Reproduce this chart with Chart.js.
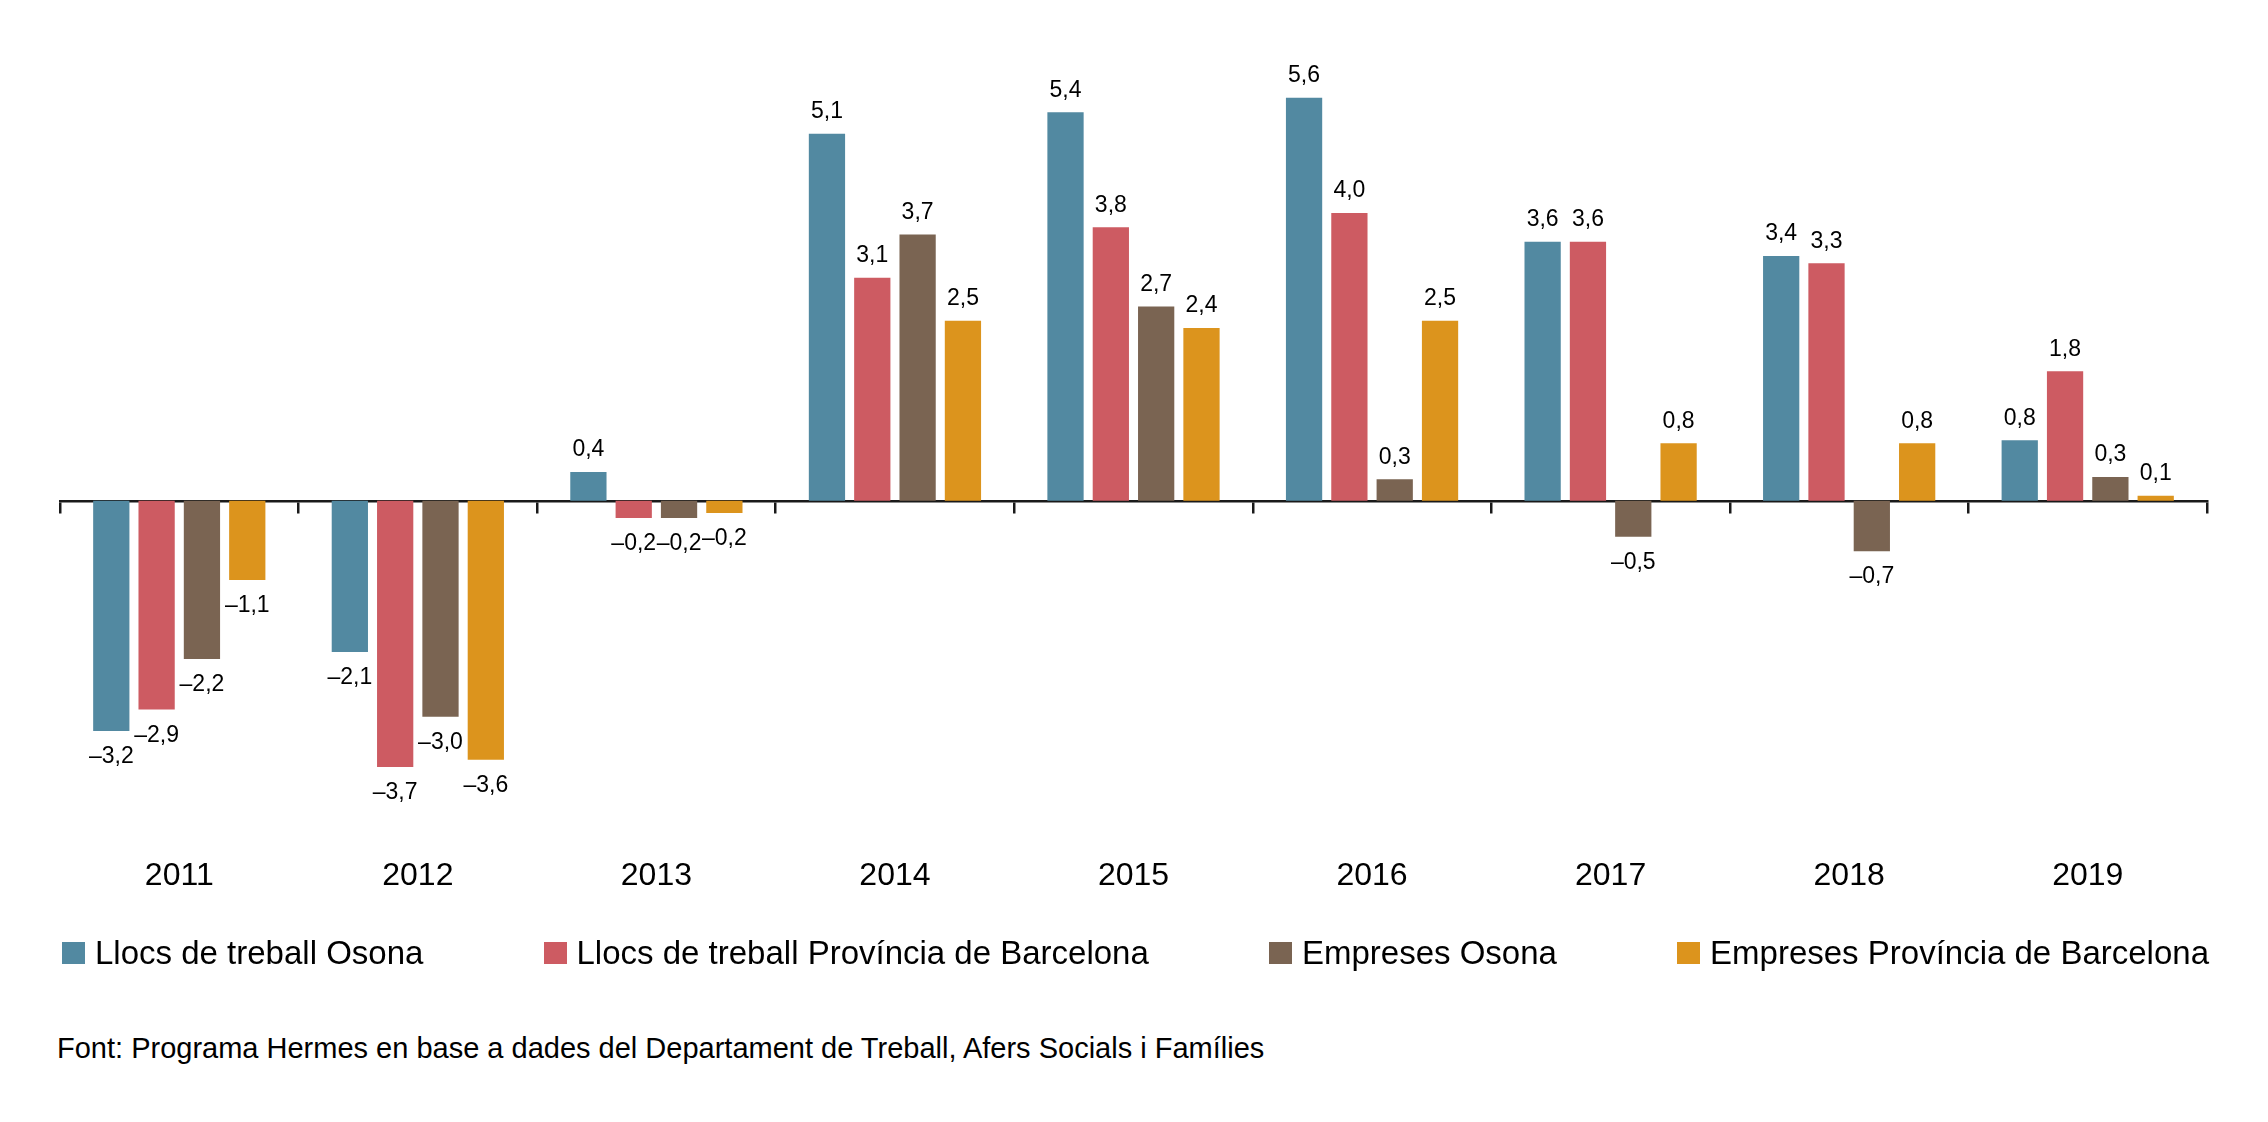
<!DOCTYPE html>
<html lang="ca">
<head>
<meta charset="utf-8">
<title>Llocs de treball i empreses</title>
<script src="https://cdn.jsdelivr.net/npm/chart.js@4/dist/chart.umd.min.js"></script>
<style>
  html, body { margin: 0; padding: 0; background: #fff; }
  body { width: 2268px; height: 1122px; position: relative; overflow: hidden;
         font-family: "Liberation Sans", Arial, Helvetica, sans-serif; color: #000; }
  #chart-wrap { position: absolute; left: 0; top: 0; width: 2268px; height: 935px; }
  #legend { position: absolute; left: 62px; width: 2147px; top: 933px; height: 40px;
            display: flex; justify-content: space-between; align-items: center; }
  #legend .item { display: flex; align-items: center; font-size: 33px; white-space: nowrap; }
  #legend .box { width: 23px; height: 22px; margin-right: 10px; }
  #source { position: absolute; left: 57px; top: 1033px; font-size: 29px; line-height: 30px; }
</style>
</head>
<body>
<div id="chart-wrap"><canvas id="chart"></canvas></div>
<div id="legend"></div>
<div id="source">Font: Programa Hermes en base a dades del Departament de Treball, Afers Socials i Famílies</div>

<script>
const YEARS = ["2011", "2012", "2013", "2014", "2015", "2016", "2017", "2018", "2019"];

const SERIES_NAMES = [
  "Llocs de treball Osona",
  "Llocs de treball Província de Barcelona",
  "Empreses Osona",
  "Empreses Província de Barcelona"
];
const SERIES_COLORS = ["#5289a1", "#cd5b62", "#7a6452", "#dc941d"];

const LLOCS_OSONA = [-3.2, -2.1, 0.4, 5.1, 5.4, 5.6, 3.6, 3.4, 0.84];
const LLOCS_BCN = [-2.9, -3.7, -0.24, 3.1, 3.8, 4.0, 3.6, 3.3, 1.8];
const EMPRESES_OSONA = [-2.2, -3.0, -0.24, 3.7, 2.7, 0.3, -0.5, -0.7, 0.33];
const EMPRESES_BCN = [-1.1, -3.6, -0.17, 2.5, 2.4, 2.5, 0.8, 0.8, 0.07];

const FONT = "'Liberation Sans', Arial, Helvetica, sans-serif";

function formatValue(v) {
  return v.toFixed(1).replace(".", ",").replace("-", "\u2013");
}

// etiquetes de valor sobre / sota cada barra
const valueLabels = {
  id: "valueLabels",
  afterDatasetsDraw(chart) {
    const ctx = chart.ctx;
    ctx.save();
    ctx.font = "23px " + FONT;
    ctx.fillStyle = "#000";
    ctx.textAlign = "center";
    ctx.textBaseline = "middle";
    chart.data.datasets.forEach((ds, i) => {
      const meta = chart.getDatasetMeta(i);
      meta.data.forEach((bar, j) => {
        const v = ds.data[j];
        const y = v >= 0 ? bar.y - 22 : bar.y + 26;
        ctx.fillText(formatValue(v), bar.x, y);
      });
    });
    ctx.restore();
  }
};

const allSeries = [LLOCS_OSONA, LLOCS_BCN, EMPRESES_OSONA, EMPRESES_BCN];

const chart = new Chart(document.getElementById("chart"), {
  type: "bar",
  data: {
    labels: YEARS,
    datasets: allSeries.map((values, i) => ({
      label: SERIES_NAMES[i],
      data: values,
      backgroundColor: SERIES_COLORS[i],
      borderWidth: 0,
      categoryPercentage: 0.76,
      barPercentage: 0.8
    }))
  },
  options: {
    responsive: true,
    maintainAspectRatio: false,
    animation: false,
    layout: { padding: { left: 60, right: 61, top: 33, bottom: 8 } },
    plugins: {
      legend: { display: false },
      tooltip: { enabled: false }
    },
    scales: {
      x: {
        offset: true,
        grid: { display: false, drawTicks: false, tickLength: 0 },
        border: { display: false },
        ticks: {
          color: "#000",
          padding: 32,
          font: { size: 32, family: FONT }
        }
      },
      x2: {
        type: "category",
        labels: YEARS,
        position: { y: 0 },
        offset: true,
        z: 1,
        grid: {
          offset: true,
          drawOnChartArea: false,
          drawTicks: true,
          tickLength: 11,
          color: "#1a1a1a",
          lineWidth: 2.5
        },
        border: { display: true, color: "#1a1a1a", width: 2.5 },
        ticks: { display: false }
      },
      y: {
        display: false,
        min: -4.5,
        max: 6.5
      }
    }
  },
  plugins: [valueLabels]
});

// llegenda
const legendEl = document.getElementById("legend");
SERIES_NAMES.forEach((name, i) => {
  const item = document.createElement("div");
  item.className = "item";
  const box = document.createElement("span");
  box.className = "box";
  box.style.background = SERIES_COLORS[i];
  item.appendChild(box);
  item.appendChild(document.createTextNode(name));
  legendEl.appendChild(item);
});
</script>
</body>
</html>
